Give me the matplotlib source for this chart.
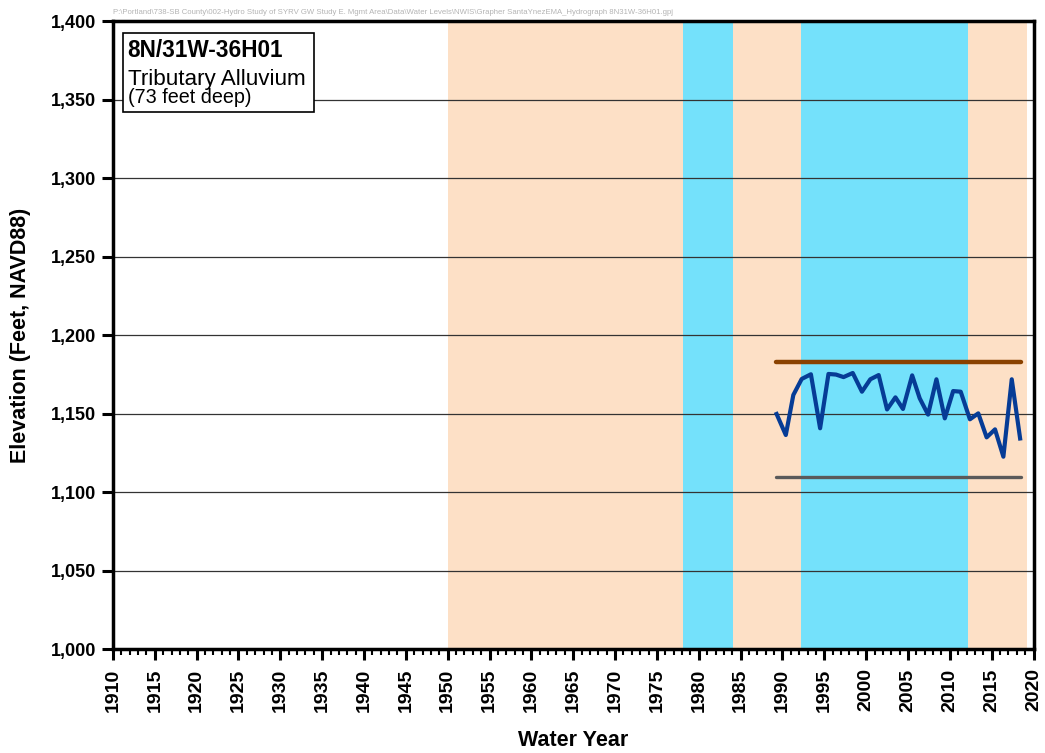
import numpy as np
import matplotlib.pyplot as plt
from matplotlib.ticker import MultipleLocator, FuncFormatter

plt.rcParams['font.family'] = ['Liberation Sans', 'DejaVu Sans']

# annual water level measurements, well 8N/31W-36H01
years = [1989.3, 1990.4, 1991.3, 1992.3, 1993.4, 1994.5, 1995.5, 1996.4, 1997.3,
         1998.4, 1999.5, 2000.5, 2001.5, 2002.5, 2003.5, 2004.4, 2005.5, 2006.4,
         2007.4, 2008.4, 2009.4, 2010.4, 2011.3, 2012.4, 2013.4, 2014.4, 2015.4,
         2016.4, 2017.4, 2018.4]
elev = [1149.7, 1136.3, 1161.8, 1172.0, 1175.0, 1140.6, 1175.2, 1174.8, 1173.2,
        1175.8, 1163.9, 1171.8, 1174.5, 1152.6, 1160.3, 1152.9, 1174.3, 1159.7,
        1149.3, 1171.8, 1146.9, 1164.3, 1163.9, 1146.3, 1150.1, 1134.8, 1139.9,
        1122.5, 1171.8, 1134.1]

# wet / dry period shading (start, end, kind)
periods = [(1950.0, 1978.1, 'dry'), (1978.1, 1984.1, 'wet'), (1984.1, 1992.2, 'dry'),
           (1992.2, 2012.2, 'wet'), (2012.2, 2019.2, 'dry')]
period_colors = {'dry': '#fde0c6', 'wet': '#74e1fb'}

# reference elevations
ref_span = (1989.25, 2018.5)
ground_elev = 1182.8
bottom_elev = 1109.6

fig = plt.figure(figsize=(10.45, 7.53), dpi=100)
ax = fig.add_axes([0.1081, 0.1381, 0.8809, 0.834])

for x0, x1, kind in periods:
    ax.axvspan(x0, x1, color=period_colors[kind], lw=0, zorder=0)

ax.set_xlim(1910, 2020)
ax.set_ylim(1000, 1400)
ax.yaxis.set_major_locator(MultipleLocator(50))
ax.xaxis.set_major_locator(MultipleLocator(5))
ax.xaxis.set_minor_locator(MultipleLocator(1))
ax.yaxis.set_major_formatter(FuncFormatter(lambda v, p: f'{v:,.0f}'))
ax.grid(axis='y', color='#333333', lw=0.9, zorder=1)
ax.set_axisbelow(False)

ax.plot(ref_span, [ground_elev] * 2, color='#8a4200', lw=3.2, solid_capstyle='round', zorder=3)
ax.plot(ref_span, [bottom_elev] * 2, color='#5a5a5a', lw=2.4, solid_capstyle='round', zorder=3)
ax.plot(years, elev, color='#063c96', lw=3.0, zorder=4)

for s in ax.spines.values():
    s.set_linewidth(2.5)
    s.set_zorder(5)

ax.tick_params(axis='both', which='major', direction='out', length=8, width=2.2, pad=4)
ax.tick_params(axis='y', labelsize=13)
ax.tick_params(axis='x', which='minor', direction='out', length=4, width=1.5)
ax.tick_params(axis='x', which='major', labelrotation=90, labelsize=14, pad=6)
for lab in ax.get_xticklabels() + ax.get_yticklabels():
    lab.set_fontweight('bold')

ax.set_xlabel('Water Year', fontsize=15.5, fontweight='bold', labelpad=13)
ax.set_ylabel('Elevation (Feet, NAVD88)', fontsize=15.5, fontweight='bold', labelpad=14)

# well label box
box = plt.Rectangle((0.0112, 0.8556), 0.207, 0.1248, transform=ax.transAxes,
                    facecolor='white', edgecolor='black', lw=1.2, zorder=6)
ax.add_patch(box)
ax.text(0.016, 0.943, '8N/31W-36H01', transform=ax.transAxes, fontsize=16.3,
        fontweight='bold', va='baseline', zorder=7)
ax.text(0.016, 0.898, 'Tributary Alluvium', transform=ax.transAxes, fontsize=16.2,
        va='baseline', zorder=7)
ax.text(0.016, 0.869, '(73 feet deep)', transform=ax.transAxes, fontsize=14.2,
        va='baseline', zorder=7)

fig.text(0.108, 0.983, r'P:\Portland\738-SB County\002-Hydro Study of SYRV GW Study E. Mgmt Area'
         r'\Data\Water Levels\NWIS\Grapher SantaYnezEMA_Hydrograph 8N31W-36H01.gpj',
         fontsize=5.6, color='#b4b4b4', va='center')

fig.savefig('out.png', dpi=100)
